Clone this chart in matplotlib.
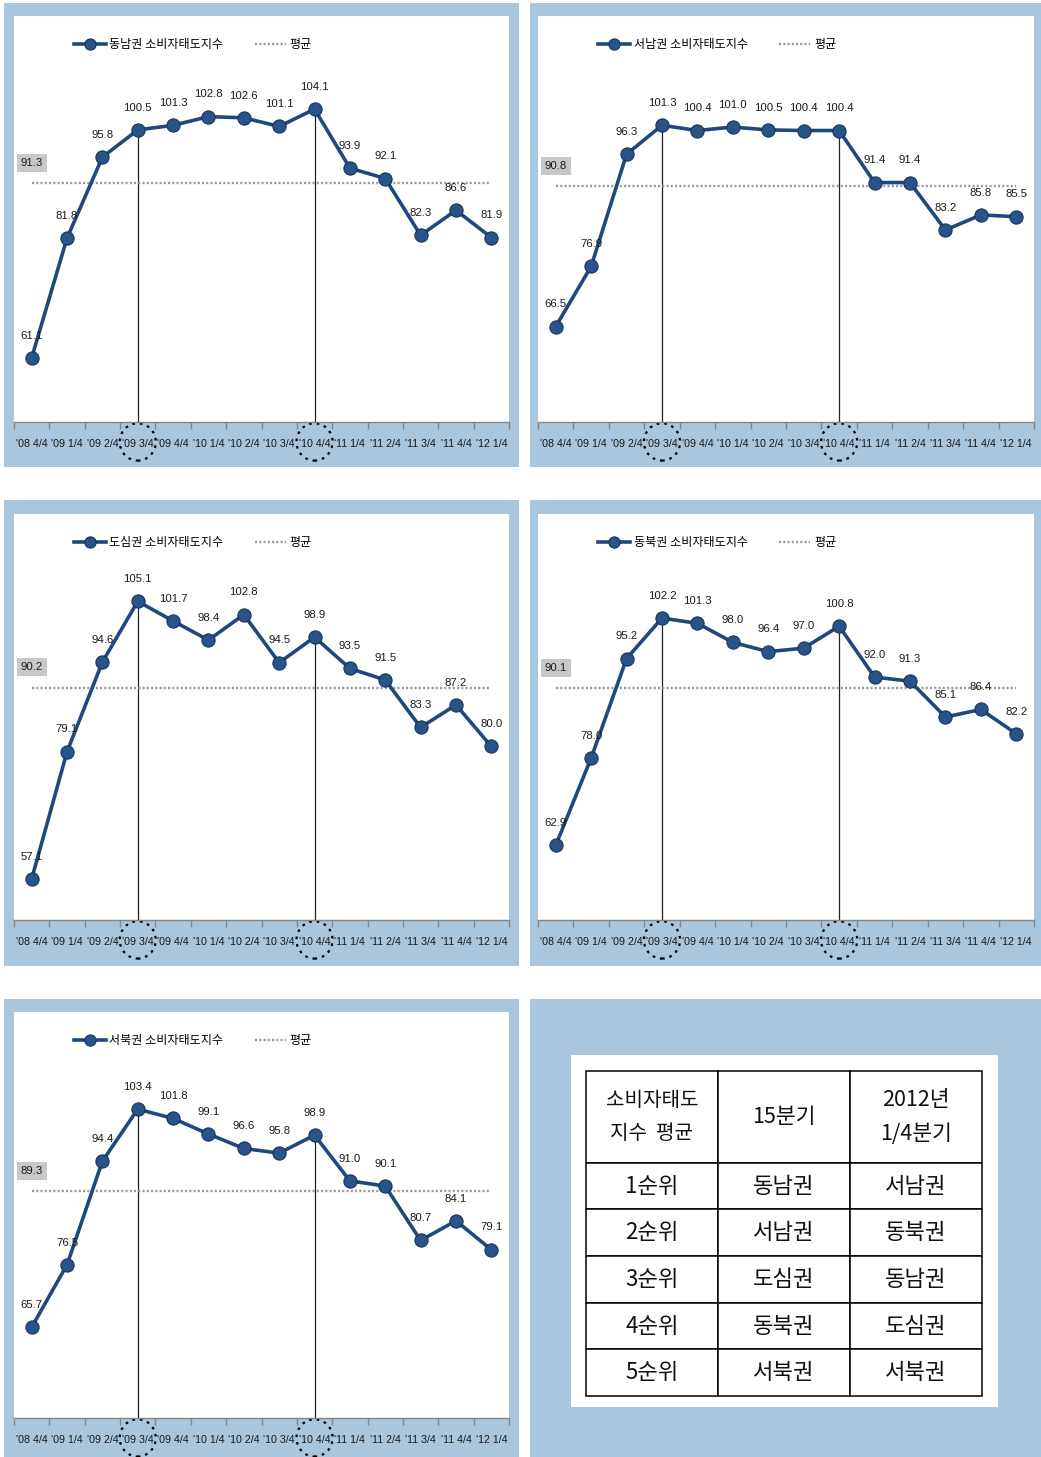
import numpy as np
import matplotlib
matplotlib.use("Agg")
import matplotlib.pyplot as plt
from matplotlib import font_manager
from matplotlib.patches import Rectangle, Ellipse

# ==========================================
# DATA
# ==========================================

quarters = ["'08 4/4", "'09 1/4", "'09 2/4", "'09 3/4", "'09 4/4",
            "'10 1/4", "'10 2/4", "'10 3/4", "'10 4/4", "'11 1/4",
            "'11 2/4", "'11 3/4", "'11 4/4", "'12 1/4"]

southeast = [61.1, 81.8, 95.8, 100.5, 101.3, 102.8, 102.6, 101.1, 104.1, 93.9, 92.1, 82.3, 86.6, 81.9]
southwest = [66.5, 76.9, 96.3, 101.3, 100.4, 101.0, 100.5, 100.4, 100.4, 91.4, 91.4, 83.2, 85.8, 85.5]
downtown = [57.1, 79.1, 94.6, 105.1, 101.7, 98.4, 102.8, 94.5, 98.9, 93.5, 91.5, 83.3, 87.2, 80.0]
northeast = [62.9, 78.0, 95.2, 102.2, 101.3, 98.0, 96.4, 97.0, 100.8, 92.0, 91.3, 85.1, 86.4, 82.2]
northwest = [65.7, 76.5, 94.4, 103.4, 101.8, 99.1, 96.6, 95.8, 98.9, 91.0, 90.1, 80.7, 84.1, 79.1]

averages = [91.3, 90.8, 90.2, 90.1, 89.3]
region_names = ["동남권", "서남권", "도심권", "동북권", "서북권"]

marked_quarters = [3, 8]  # '09 3/4 and '10 4/4

table_header = ["소비자태도\n지수  평균", "15분기", "2012년\n1/4분기"]
ranks = ["1순위", "2순위", "3순위", "4순위", "5순위"]
rank_15q = ["동남권", "서남권", "도심권", "동북권", "서북권"]
rank_2012q1 = ["서남권", "동북권", "동남권", "도심권", "서북권"]

# ==========================================
# STYLE
# ==========================================

W, H = 1041, 1457
BLUE = "#a8c6de"
LINE = "#1f497d"
KR = ["Noto Sans CJK KR", "DejaVu Sans"]

names = {f.name for f in font_manager.fontManager.ttflist}
if "Liberation Sans Narrow" in names:
    NUM_FONT, NUM_SIZE, TICK_SIZE = "Liberation Sans Narrow", 9, 9
else:
    NUM_FONT, NUM_SIZE, TICK_SIZE = "Liberation Sans", 8.2, 7.7

plt.rcParams["font.family"] = KR


def frac_box(x0, y0, x1, y1):
    return [x0 / W, 1 - y1 / H, (x1 - x0) / W, (y1 - y0) / H]


def blue_panel(fig, x0, y0, x1, y1, color=BLUE):
    l, b, w, h = frac_box(x0, y0, x1, y1)
    fig.add_artist(Rectangle((l, b), w, h, transform=fig.transFigure,
                             facecolor=color, edgecolor="none", zorder=0))


fig = plt.figure(figsize=(W / 100, H / 100), dpi=100)

panels = [
    ((4, 3, 519, 467), (14, 16, 509, 422)),
    ((530, 3, 1041, 467), (538, 16, 1034, 422)),
    ((4, 500, 519, 966), (14, 514, 509, 920)),
    ((530, 500, 1041, 966), (538, 514, 1034, 920)),
    ((4, 999, 519, 1457), (14, 1012, 509, 1418)),
]

series_list = [southeast, southwest, downtown, northeast, northwest]

# ==========================================
# LINE CHARTS
# ==========================================

for (outer, inner), values, avg, name in zip(panels, series_list, averages, region_names):
    blue_panel(fig, *outer)
    ax = fig.add_axes(frac_box(*inner))
    ax.set_facecolor("white")

    x = np.arange(len(quarters))
    vals = np.array(values)

    ax.vlines(marked_quarters, 50, vals[marked_quarters], color="#222222", lw=0.9, zorder=1)

    ax.plot([x[0], x[-1]], [avg, avg], ls=(0, (0.9, 0.9)), color="#9a9a9a",
            lw=1.7, zorder=2, label="평균")

    ax.plot(x, vals, color=LINE, lw=2.6, marker="o", markersize=9.5,
            markerfacecolor="#285489", markeredgecolor="#17355c", markeredgewidth=0.8,
            zorder=3, label=f"{name} 소비자태도지수")

    for xi, v in zip(x, vals):
        ax.annotate(f"{v:.1f}", (xi, v), xytext=(0, 16), textcoords="offset points",
                    ha="center", va="center", fontsize=NUM_SIZE, family=NUM_FONT,
                    color="#1a1a1a", zorder=4)

    ax.annotate(f"{avg:.1f}", (0, avg), xytext=(0, 14.5), textcoords="offset points",
                ha="center", va="center", fontsize=NUM_SIZE, family=NUM_FONT,
                color="#1a1a1a",
                bbox=dict(boxstyle="square,pad=0.35", fc="#c8c8c8", ec="none"))

    ax.set_xlim(-0.5, len(quarters) - 0.5)
    ax.set_ylim(50, 120.2)
    ax.set_yticks([])
    ax.set_xticks(x)
    ax.set_xticklabels(quarters, fontsize=TICK_SIZE, family=NUM_FONT, color="#1a1a1a")
    ax.set_xticks(np.arange(-0.5, len(quarters)), minor=True)
    ax.tick_params(axis="x", which="major", length=0, pad=12)
    ax.tick_params(axis="x", which="minor", length=5, color="#868686", width=1)

    for side in ["left", "right", "top"]:
        ax.spines[side].set_visible(False)
    ax.spines["bottom"].set_color("#868686")
    ax.spines["bottom"].set_linewidth(1)

    for idx in marked_quarters:
        ax.add_patch(Ellipse((idx, -0.049), width=1.02, height=0.092,
                             transform=ax.get_xaxis_transform(), fill=False,
                             ls=(0, (1.2, 2.2)), lw=1.6, ec="black", clip_on=False))

    handles, labels = ax.get_legend_handles_labels()
    ax.legend(handles[::-1], labels[::-1], loc="center left", bbox_to_anchor=(0.1, 0.93),
              ncol=2, frameon=False, handlelength=2.6,
              columnspacing=2.6, handletextpad=0.3, markerscale=0.85,
              prop={"family": KR, "size": 8.7})

# ==========================================
# RANK TABLE
# ==========================================

blue_panel(fig, 530, 999, 1041, 1457)
blue_panel(fig, 571, 1055, 998, 1407, color="white")

tax = fig.add_axes(frac_box(586, 1071, 982, 1396))
tax.axis("off")

cell_text = [[r, a, b] for r, a, b in zip(ranks, rank_15q, rank_2012q1)]
tbl = tax.table(cellText=cell_text, colLabels=table_header, cellLoc="center",
                bbox=[0, 0, 1, 1])
tbl.auto_set_font_size(False)

for (row, col), cell in tbl.get_celld().items():
    cell.set_edgecolor("black")
    cell.set_linewidth(1.1)
    cell.set_facecolor("white")
    txt = cell.get_text()
    txt.set_fontfamily(KR)
    txt.set_color("#111111")
    if row == 0:
        cell.set_height(0.2 * 1.97)
        txt.set_linespacing(1.7)
        txt.set_fontsize(14.5 if col == 0 else 15.5)
    else:
        cell.set_height(0.2)
        txt.set_fontsize(16)

fig.savefig("out.png", dpi=100)
